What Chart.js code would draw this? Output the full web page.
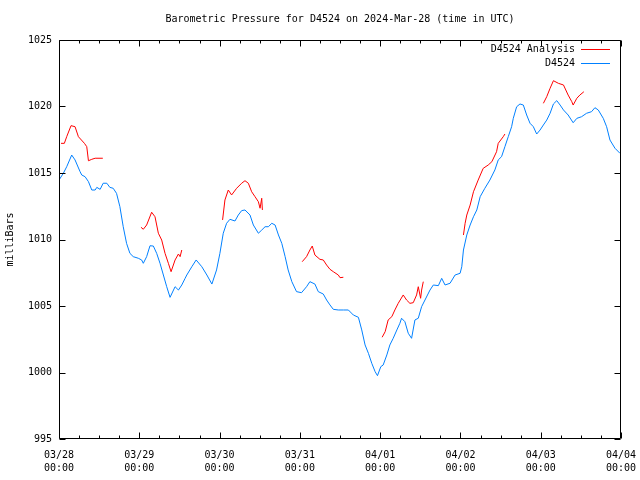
<!DOCTYPE html>
<html>
<head>
<meta charset="utf-8">
<script src="https://cdn.jsdelivr.net/npm/chart.js@4/dist/chart.umd.min.js"></script>
<style>
  body { margin: 0; background: #fff; }
  #wrap { width: 640px; height: 480px; }
</style>
</head>
<body>
<div id="wrap"><canvas id="chart" width="640" height="480"></canvas></div>
<script>
const titleText  = "Barometric Pressure for D4524 on 2024-Mar-28 (time in UTC)";
const yTitle     = "milliBars";
const dayLabels  = ["03/28", "03/29", "03/30", "03/31", "04/01", "04/02", "04/03", "04/04"];
const timeLabel  = "00:00";
const FONT       = "'DejaVu Sans Mono', 'Liberation Mono', monospace";

// hours since 03/28 00:00 UTC
const stationHours = [0,1.3,2.3,3.8,4.8,6.3,6.8,7.8,8.8,9.8,
  10.8,11.3,12.3,13.2,14.3,15.2,16.2,17.2,18.2,19.2,
  20.2,21.2,22.2,23.7,24.7,25.2,26.2,27.2,28.2,29.2,
  30.2,31.2,32.2,33.2,34.7,35.7,36.7,37.7,38.2,39.7,
  41.0,42.7,44.2,45.7,47.1,48.1,49.1,50.1,51.1,52.6,
  53.6,54.6,55.6,57.1,58.1,59.6,60.6,61.6,62.6,63.6,
  64.6,65.6,66.6,67.6,68.5,69.6,71.0,72.5,74.0,75.0,
  76.5,77.5,79.0,80.0,81.0,82.0,83.5,85.0,86.5,88.0,
  89.5,90.5,91.5,92.5,93.5,94.5,95.2,96.2,96.9,98.0,
  98.9,99.9,101.0,101.9,102.4,103.4,104.4,105.4,106.4,107.4,
  108.4,109.4,110.9,111.9,113.4,114.4,115.4,116.9,118.4,119.9,
  120.4,120.9,121.9,122.9,123.9,124.9,125.9,127.3,128.8,130.3,
  131.3,132.3,133.3,134.3,135.3,135.8,136.8,137.8,138.8,139.8,
  140.8,141.8,142.8,143.8,144.8,145.8,146.8,147.8,148.8,149.8,
  150.8,152.2,153.7,154.8,156.2,157.7,159.2,160.2,161.2,162.7,
  163.7,164.7,166.2,167.7,168];
const stationPressure = [1014.47,1014.98,1015.47,1016.35,1015.98,1015.10,1014.85,1014.72,1014.35,1013.72,
  1013.72,1013.92,1013.77,1014.23,1014.23,1013.92,1013.85,1013.47,1012.47,1010.96,
  1009.71,1008.96,1008.71,1008.59,1008.46,1008.21,1008.71,1009.53,1009.51,1008.96,
  1008.21,1007.33,1006.45,1005.65,1006.45,1006.20,1006.58,1007.08,1007.33,1007.95,
  1008.46,1007.95,1007.33,1006.65,1007.71,1008.96,1010.47,1011.22,1011.52,1011.39,
  1011.84,1012.17,1012.22,1011.84,1011.09,1010.47,1010.71,1010.96,1010.96,1011.22,
  1011.09,1010.34,1009.71,1008.71,1007.71,1006.83,1006.08,1006.00,1006.45,1006.83,
  1006.65,1006.08,1005.90,1005.45,1005.08,1004.75,1004.70,1004.70,1004.70,1004.32,
  1004.15,1003.20,1002.07,1001.44,1000.69,1000.06,999.76,1000.44,1000.56,1001.32,
  1002.07,1002.57,1003.20,1003.70,1004.08,1003.82,1002.95,1002.57,1003.95,1004.08,
  1004.95,1005.45,1006.20,1006.58,1006.53,1007.08,1006.58,1006.71,1007.33,1007.46,
  1007.95,1009.21,1010.34,1011.09,1011.71,1012.22,1013.22,1013.85,1014.47,1015.23,
  1015.98,1016.23,1016.98,1017.73,1018.48,1019.11,1019.98,1020.19,1020.11,1019.36,
  1018.74,1018.48,1017.93,1018.23,1018.61,1018.98,1019.49,1020.19,1020.44,1020.11,
  1019.74,1019.36,1018.78,1019.11,1019.23,1019.49,1019.61,1019.91,1019.74,1019.11,
  1018.48,1017.48,1016.86,1016.48,1016.5];

// analysis runs, null = gap between runs
const analysisHours = [0.6,1.6,2.3,3.6,4.8,5.8,7.6,8.3,8.8,9.8,10.8,13.1, 18,
  24.5,25.2,26.2,27.7,28.7,29.7,30.7,31.7,32.7,33.5,34.7,35.7,36.2,36.7, 42,
  48.9,49.6,50.6,51.6,53.1,54.6,55.6,56.6,57.6,58.6,59.6,60.1,60.6,60.8, 66,
  72.7,74.0,75.0,75.7,76.5,78.0,79.0,80.0,81.0,82.0,83.5,84.0,85.0, 90,
  96.6,97.5,98.4,99.5,100.4,101.4,102.9,103.9,104.9,105.9,106.9,107.4,108.1,108.4,108.9, 114,
  120.9,121.4,121.9,122.9,123.9,125.3,126.8,128.3,129.4,130.8,131.3,132.8,133.3, 138,
  144.8,145.8,146.8,147.8,149.3,150.8,152.2,153.3,153.7,154.8,155.7,156.9];
const analysisPressure = [1017.23,1017.23,1017.73,1018.56,1018.48,1017.73,1017.23,1016.98,1015.92,1016.03,1016.11,1016.11, null,
  1010.92,1010.77,1011.09,1012.05,1011.71,1010.47,1009.96,1008.96,1008.21,1007.58,1008.46,1008.91,1008.71,1009.21, null,
  1011.47,1012.97,1013.72,1013.35,1013.85,1014.23,1014.42,1014.23,1013.59,1013.22,1012.84,1012.35,1013.10,1012.22, null,
  1008.33,1008.71,1009.21,1009.51,1008.83,1008.51,1008.46,1008.08,1007.76,1007.58,1007.33,1007.13,1007.16, null,
  1002.65,1003.07,1003.95,1004.20,1004.70,1005.20,1005.83,1005.45,1005.20,1005.25,1005.83,1006.45,1005.58,1006.20,1006.83, null,
  1010.34,1011.22,1011.84,1012.59,1013.59,1014.47,1015.35,1015.60,1015.85,1016.60,1017.23,1017.73,1017.93, null,
  1020.24,1020.74,1021.37,1021.94,1021.74,1021.62,1020.86,1020.36,1020.11,1020.62,1020.86,1021.11];

const toPoints = (hs, vs) => hs.map((h, i) => ({ x: h, y: vs[i] }));

// ── frame, inward ticks, title, legend (gnuplot look) ──
const gnuFrame = {
  id: "gnuFrame",
  afterDatasetsDraw(chart) {
    const { ctx, chartArea: a, scales: { x, y } } = chart;
    const L = Math.round(a.left) + 0.5, R = Math.round(a.right) - 0.5;
    const T = Math.round(a.top) + 0.5,  B = Math.round(a.bottom) - 0.5;
    ctx.save();
    ctx.strokeStyle = "#000";
    ctx.lineWidth = 1;
    ctx.beginPath();
    ctx.rect(L, T, R - L, B - T);
    y.ticks.forEach(t => {
      const py = Math.round(y.getPixelForValue(t.value)) + 0.5;
      ctx.moveTo(L, py); ctx.lineTo(L + 6, py);
      ctx.moveTo(R, py); ctx.lineTo(R - 6, py);
    });
    for (let h = x.min; h <= x.max; h += 6) {
      const len = h % 24 === 0 ? 6 : 3;
      const px = Math.round(x.getPixelForValue(h)) + 0.5;
      ctx.moveTo(px, B); ctx.lineTo(px, B - len);
      ctx.moveTo(px, T); ctx.lineTo(px, T + len);
    }
    ctx.stroke();

    ctx.fillStyle = "#000";
    ctx.font = "10px " + FONT;
    ctx.textBaseline = "middle";
    ctx.textAlign = "center";
    ctx.fillText(titleText, (a.left + a.right) / 2, 19);

    // legend
    ctx.textAlign = "right";
    chart.data.datasets.forEach((ds, i) => {
      const ly = 49 + i * 14;
      ctx.fillStyle = "#000";
      ctx.fillText(ds.label, 575, ly);
      ctx.strokeStyle = ds.borderColor;
      ctx.beginPath();
      ctx.moveTo(581, ly + 0.5); ctx.lineTo(610, ly + 0.5);
      ctx.stroke();
    });
    ctx.restore();
  }
};

new Chart(document.getElementById("chart"), {
  type: "line",
  data: {
    datasets: [
      {
        label: "D4524 Analysis",
        data: toPoints(analysisHours, analysisPressure),
        borderColor: "#ff0000",
        borderWidth: 1,
        pointRadius: 0,
        spanGaps: false,
      },
      {
        label: "D4524",
        data: toPoints(stationHours, stationPressure),
        borderColor: "#0080ff",
        borderWidth: 1,
        pointRadius: 0,
      },
    ],
  },
  options: {
    responsive: false,
    animation: false,
    layout: { padding: { top: 40, right: 19, left: 0, bottom: 0 } },
    plugins: { legend: { display: false }, title: { display: false }, tooltip: { enabled: false } },
    scales: {
      x: {
        type: "linear", min: 0, max: 168,
        grid: { display: false }, border: { display: false },
        afterFit: s => { s.height = 41; s.paddingLeft = 0; s.paddingRight = 0; },
        ticks: {
          stepSize: 24, maxRotation: 0, padding: 2, color: "#000",
          font: { family: FONT, size: 10, lineHeight: 1.3 },
          callback: v => [dayLabels[v / 24], timeLabel],
        },
      },
      y: {
        min: 995, max: 1025,
        grid: { display: false, drawTicks: false }, border: { display: false },
        afterFit: s => { s.width = 59; s.paddingTop = 0; s.paddingBottom = 0; },
        title: { display: true, text: yTitle, color: "#000", padding: { top: 4, bottom: 0 },
                 font: { family: FONT, size: 10 } },
        ticks: { stepSize: 5, padding: 7, color: "#000", font: { family: FONT, size: 10 },
                 callback: v => String(v) },
      },
    },
  },
  plugins: [gnuFrame],
});
</script>
</body>
</html>
